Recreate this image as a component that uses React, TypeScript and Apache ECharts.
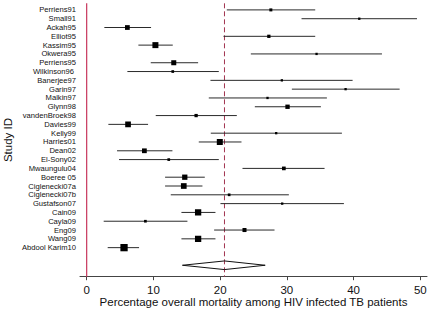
import React, { useEffect, useRef } from "react";
import * as echarts from "echarts";

const studies = [
  "Perriens91", "Small91", "Ackah95", "Elliot95", "Kassim95", "Okwera95", "Perriens95",
  "Wilkinson96 ", "Banerjee97", "Garin97", "Malkin97", "Glynn98", "vandenBroek98", "Davies99",
  "Kelly99", "Harries01", "Dean02", "El-Sony02", "Mwaungulu04", "Boeree 05", "Ciglenecki07a",
  "Ciglenecki07b", "Gustafson07", "Cain09", "Cayla09", "Eng09", "Wang09", "Abdool Karim10",
];
const estimates = [
  27.6, 40.85, 6.1, 27.3, 10.3, 34.45, 13.05, 12.9, 29.25, 38.8, 27.1, 30.1, 16.4, 6.2,
  28.4, 19.95, 8.65, 12.3, 29.55, 14.7, 14.55, 21.35, 29.3, 16.7, 8.8, 23.65, 16.7, 5.6,
];
const lowerCI = [
  21.0, 32.2, 2.65, 20.5, 7.75, 24.6, 9.6, 6.1, 18.55, 30.75, 18.3, 25.2, 10.35, 3.25,
  18.6, 16.8, 4.55, 4.85, 23.35, 11.75, 11.75, 12.6, 20.05, 14.2, 2.55, 19.1, 14.2, 3.15,
];
const upperCI = [
  34.25, 49.5, 9.65, 34.25, 12.9, 44.25, 16.7, 19.8, 39.85, 46.9, 36.0, 35.1, 22.5, 9.2,
  38.25, 23.2, 12.85, 19.8, 35.65, 17.7, 17.35, 30.3, 38.55, 19.3, 15.1, 28.15, 19.3, 7.85,
];
const weights = [
  1.0, 0.6, 2.5, 1.2, 4.0, 0.6, 2.8, 0.8, 0.6, 0.6, 0.6, 2.1, 1.2, 3.6,
  0.6, 4.0, 2.5, 0.8, 1.5, 3.1, 3.6, 0.8, 0.6, 4.4, 0.8, 1.8, 4.4, 5.9,
];
const pooledLower = 14.35;
const pooledEstimate = 20.65;
const pooledUpper = 26.75;
const pooledRow = 30;
const xTicks = [0, 10, 20, 30, 40, 50];
const rowTicks = studies.map((_, i) => i + 1);

const FONT = "'Liberation Sans', Arial, Helvetica, sans-serif";

export default function App() {
  const ref = useRef<HTMLDivElement>(null);
  useEffect(() => {
    if (!ref.current) return;
    const chart = echarts.init(ref.current, null, { renderer: "svg" });
    const studyData = studies.map((_, i) => [lowerCI[i], upperCI[i], estimates[i], i + 1, weights[i]]);
    chart.setOption({
      animation: false,
      backgroundColor: "#ffffff",
      grid: { left: 80, right: 3, top: 3.3, bottom: 33.3, containLabel: false, outerBoundsMode: "none" },
      xAxis: {
        type: "value",
        min: -1,
        max: 51,
        axisLine: { show: true, lineStyle: { color: "#444", width: 1 } },
        axisTick: { show: true, length: 3.5, lineStyle: { color: "#444" }, customValues: xTicks },
        axisLabel: {
          customValues: xTicks,
          fontSize: 11.5,
          lineHeight: 9,
          color: "#111",
          fontFamily: FONT,
          margin: 9,
        },
        splitLine: { show: false },
        name: "Percentage overall mortality among HIV infected TB patients",
        nameLocation: "middle",
        nameGap: 19.5,
        nameMoveOverlap: false,
        nameTextStyle: {
          fontSize: 11.5,
          lineHeight: 11,
          color: "#111",
          fontFamily: FONT,
          verticalAlign: "top",
        },
      },
      yAxis: {
        type: "value",
        inverse: true,
        min: 0.25,
        max: 31.3,
        axisLine: { show: false },
        axisTick: { show: false },
        splitLine: { show: false },
        axisLabel: {
          customValues: rowTicks,
          formatter: (v: number) => studies[Math.round(v) - 1] ?? "",
          fontSize: 7.6,
          color: "#111",
          fontFamily: FONT,
          margin: 4,
        },
        name: "Study ID",
        nameLocation: "middle",
        nameGap: 66,
        nameMoveOverlap: false,
        nameTextStyle: { fontSize: 11.5, color: "#111", fontFamily: FONT },
      },
      series: [
        {
          type: "custom",
          name: "refs",
          data: [[0, 0], [pooledEstimate, 1]],
          renderItem: (params: any, api: any) => {
            const x = api.value(0);
            const kind = api.value(1);
            const cs = params.coordSys;
            const px = api.coord([x, 1])[0];
            return {
              type: "line",
              shape: { x1: px, y1: cs.y, x2: px, y2: cs.y + cs.height },
              style: kind === 0
                ? { stroke: "#c8365c", lineWidth: 1.2 }
                : { stroke: "#a23450", lineWidth: 1, lineDash: [5, 3] },
              silent: true,
            };
          },
          z: 1,
        },
        {
          type: "custom",
          name: "studies",
          data: studyData,
          renderItem: (params: any, api: any) => {
            const lo = api.coord([api.value(0), api.value(3)]);
            const hi = api.coord([api.value(1), api.value(3)]);
            const est = api.coord([api.value(2), api.value(3)]);
            const size = 3 * Math.sqrt(api.value(4));
            return {
              type: "group",
              children: [
                {
                  type: "line",
                  shape: { x1: lo[0], y1: lo[1], x2: hi[0], y2: hi[1] },
                  style: { stroke: "#2a2a2a", lineWidth: 1 },
                },
                {
                  type: "rect",
                  shape: { x: est[0] - size / 2, y: est[1] - size / 2, width: size, height: size },
                  style: { fill: "#000" },
                },
              ],
            };
          },
          z: 2,
        },
        {
          type: "custom",
          name: "pooled",
          data: [[pooledLower, pooledEstimate, pooledUpper, pooledRow]],
          renderItem: (params: any, api: any) => {
            const row = api.value(3);
            const l = api.coord([api.value(0), row]);
            const c = api.coord([api.value(1), row]);
            const r = api.coord([api.value(2), row]);
            const half = api.size([0, 0.49])[1];
            return {
              type: "polygon",
              shape: {
                points: [
                  [l[0], l[1]],
                  [c[0], c[1] - half],
                  [r[0], r[1]],
                  [c[0], c[1] + half],
                ],
              },
              style: { fill: "none", stroke: "#111", lineWidth: 1 },
            };
          },
          z: 3,
        },
      ],
    });
    return () => chart.dispose();
  }, []);
  return (
    <div
      ref={ref}
      style={{ position: "fixed", left: 0, top: 0, width: 430, height: 310, background: "#fff" }}
    />
  );
}
